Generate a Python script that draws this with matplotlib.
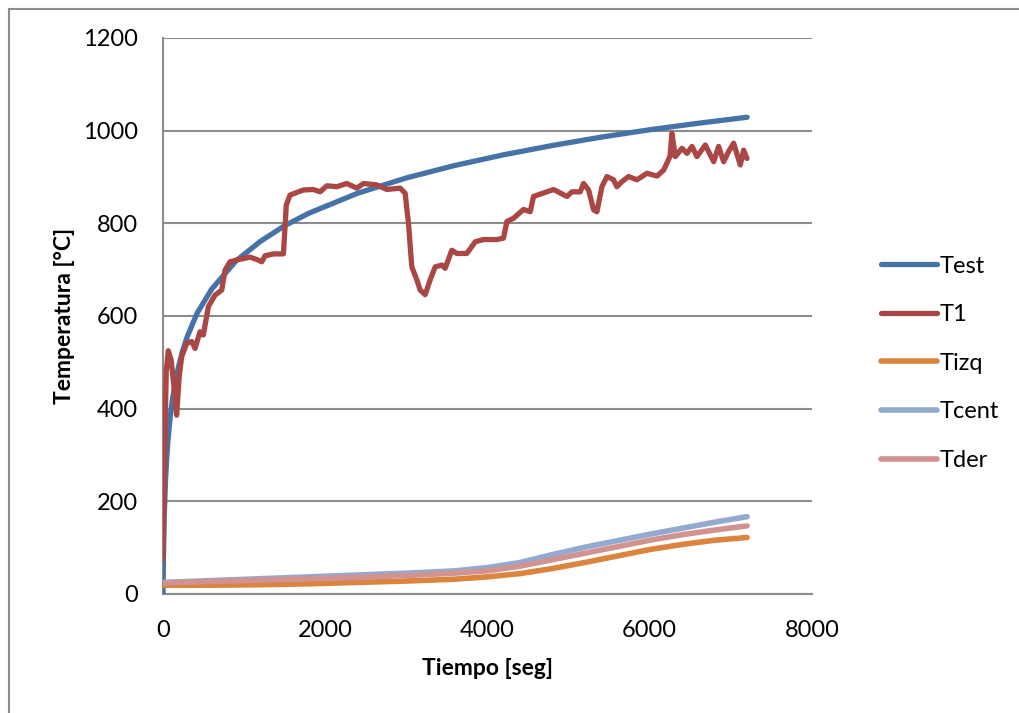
import matplotlib
matplotlib.use("Agg")
import matplotlib.pyplot as plt
from matplotlib.patches import Rectangle

# ---- data ----
test_t = [0, 5, 15, 30, 45, 60, 90, 120, 180, 240, 300, 420, 600, 900, 1200, 1500,
          1800, 2400, 3000, 3600, 4200, 4800, 5400, 6000, 6600, 7200]
test_v = [0, 72, 165, 241, 291, 329, 384, 425, 482, 524, 556, 606, 658, 719, 761, 795,
          822, 865, 898, 925, 948, 968, 986, 1002, 1016, 1029]

t1_t = [0, 20, 40, 65, 100, 140, 168, 200, 230, 292, 354, 395, 456, 497, 559,
        641, 724, 765, 826, 909, 1073, 1155, 1217, 1258, 1361, 1484, 1500, 1520,
        1566, 1730, 1854, 1936, 2019, 2142, 2265, 2389, 2471, 2635, 2759, 2923,
        2985, 3026, 3067, 3129, 3170, 3232, 3293, 3355, 3437, 3478, 3560, 3622,
        3745, 3848, 3950, 4115, 4197, 4239, 4321, 4444, 4526, 4567, 4650, 4814,
        4979, 5040, 5143, 5184, 5246, 5308, 5349, 5410, 5472, 5554, 5595, 5657,
        5739, 5842, 5965, 6089, 6171, 6212, 6250, 6274, 6315, 6397, 6459, 6521,
        6582, 6685, 6788, 6849, 6911, 6972, 7034, 7116, 7157, 7198]
t1_v = [75, 300, 480, 525, 505, 440, 386, 470, 512, 541, 545, 530, 566, 559, 620,
        645, 656, 699, 717, 721, 727, 722, 717, 730, 734, 734, 780, 840,
        861, 872, 873, 868, 881, 879, 886, 876, 886, 883, 873, 876,
        865, 800, 706, 678, 656, 646, 678, 706, 710, 703, 742, 735,
        735, 760, 765, 765, 768, 804, 811, 830, 825, 858, 863, 873,
        858, 868, 868, 886, 872, 829, 825, 879, 901, 894, 879, 890,
        901, 894, 908, 902, 915, 930, 945, 994, 944, 962, 951, 966,
        944, 969, 933, 966, 933, 955, 973, 926, 958, 940]

low_t = [0, 600, 1200, 1800, 2400, 3000, 3600, 4000, 4400, 4800, 5200, 5600,
         6000, 6400, 6800, 7200]
tizq = [19, 19, 20, 22, 25, 28, 32, 37, 44, 55, 68, 82, 96, 107, 116, 122]
tcent = [25, 29, 33, 37, 41, 45, 50, 57, 68, 85, 101, 115, 129, 142, 155, 167]
tder = [24, 27, 30, 33, 36, 40, 45, 50, 60, 74, 88, 102, 116, 128, 138, 147]

series_names = ["Test", "T1", "Tizq", "Tcent", "Tder"]
colors = ["#4572A7", "#AA4643", "#DB843D", "#93A9CF", "#D09392"]

x_ticks = [0, 2000, 4000, 6000, 8000]
y_ticks = [0, 200, 400, 600, 800, 1000, 1200]

plt.rcParams['font.family'] = ['Lato', 'DejaVu Sans']

fig = plt.figure(figsize=(10.2, 7.13), dpi=100)
fig.patch.set_facecolor("white")
# outer chart border (extends off right/bottom edges)
fig.patches.append(Rectangle((9 / 1020, -0.1), 1.2, 1 - 9 / 713 + 0.1,
                             transform=fig.transFigure, fill=False,
                             edgecolor="#8C8C8C", linewidth=1.5))

ax = fig.add_axes([163 / 1020, 1 - 594 / 713, (812 - 163) / 1020, (594 - 38) / 713])

lw = 3.8
ax.plot(test_t, test_v, color=colors[0], lw=lw, label=series_names[0],
        solid_capstyle="round", zorder=3)
ax.plot(t1_t, t1_v, color=colors[1], lw=lw, label=series_names[1],
        solid_capstyle="round", solid_joinstyle="round", zorder=3)
ax.plot(low_t, tizq, color=colors[2], lw=4.0, label=series_names[2],
        solid_capstyle="round", zorder=3)
ax.plot(low_t, tcent, color=colors[3], lw=4.0, label=series_names[3],
        solid_capstyle="round", zorder=3)
ax.plot(low_t, tder, color=colors[4], lw=4.0, label=series_names[4],
        solid_capstyle="round", zorder=3)

ax.set_xlim(0, 8000)
ax.set_ylim(0, 1200)
ax.set_xticks(x_ticks)
ax.set_yticks(y_ticks)
ax.set_xticklabels([str(v) for v in x_ticks])
ax.set_yticklabels([str(v) for v in y_ticks])
ax.tick_params(length=0, labelsize=17, colors="black")
ax.tick_params(axis='y', pad=18)
ax.tick_params(axis='x', pad=19)
ax.grid(axis='y', color="#8C8C8C", lw=1.5, zorder=0)
ax.set_axisbelow(True)
for s in ["top", "right"]:
    ax.spines[s].set_visible(False)
for s in ["left", "bottom"]:
    ax.spines[s].set_color("#8C8C8C")
    ax.spines[s].set_linewidth(1.5)

ax.set_xlabel("Tiempo [seg]", fontsize=16.5, fontweight="bold", labelpad=12)
ax.set_ylabel("Temperatura [°C]", fontsize=16.5, fontweight="bold", labelpad=6)

leg = ax.legend(loc="center left", bbox_to_anchor=(1.091, 0.415), frameon=False,
                fontsize=17, handlelength=2.4, handletextpad=0.1,
                labelspacing=1.17, borderaxespad=0)

fig.savefig("out.png", dpi=100, facecolor="white")
